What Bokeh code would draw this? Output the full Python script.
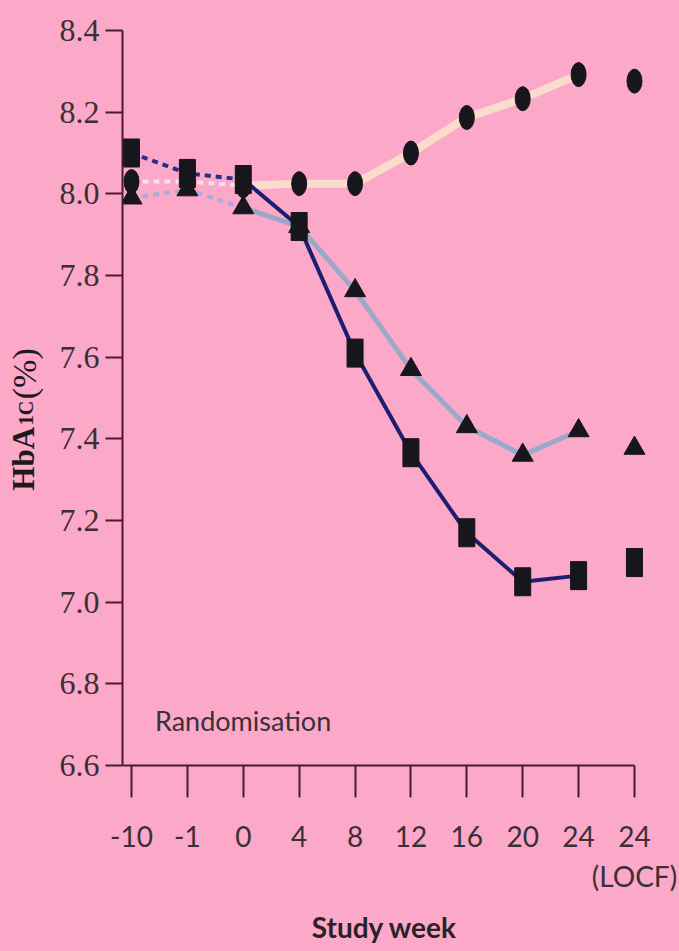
from bokeh.plotting import figure
from bokeh.models import Range1d, FixedTicker, NumeralTickFormatter, Label
from bokeh.layouts import row
from bokeh.core.properties import value
from bokeh.embed import file_html
from bokeh.resources import INLINE
import math

# ---- data ----
week_labels = ["-10", "-1", "0", "4", "8", "12", "16", "20", "24", "24\n(LOCF)"]
week_pos = list(range(len(week_labels)))
circle_vals = [8.03, 8.03, 8.02, 8.025, 8.025, 8.10, 8.187, 8.233, 8.292, 8.276]
triangle_vals = [7.99, 8.01, 7.966, 7.92, 7.763, 7.57, 7.43, 7.36, 7.42, 7.377]
square_vals = [8.10, 8.05, 8.035, 7.92, 7.61, 7.366, 7.17, 7.05, 7.065, 7.097]
y_ticks = [6.6, 6.8, 7.0, 7.2, 7.4, 7.6, 7.8, 8.0, 8.2, 8.4]
y_title_parts = ["HbA", "1C", "(%)"]

BG = "#FCA8C8"
AXIS = "#4A1C2A"
TXT = "#3A3035"
MARK = "#16161C"
C_CIRCLE = "#FADCCC"
C_CIRCLE_D = "#F3E4EC"
C_TRI = "#9AA8CA"
C_TRI_D = "#A9ABDC"
C_SQ = "#1C1F70"
C_SQ_D = "#27308C"

X_START = -0.161
X_END = 9.215
yr = Range1d(y_ticks[0], y_ticks[-1])

TOP = 30
BOTTOM = 186
H = 951
STRIP_W = 56

p = figure(width=679 - STRIP_W, height=H,
           x_range=Range1d(X_START, X_END), y_range=yr,
           output_backend="svg", toolbar_location=None,
           min_border_left=122 - STRIP_W, min_border_right=33,
           min_border_top=TOP, min_border_bottom=BOTTOM,
           background_fill_color=None, border_fill_color=None,
           outline_line_color=None, styles={"background-color": BG})
p.grid.visible = False

# x axis
xa = p.xaxis[0]
xa.ticker = FixedTicker(ticks=week_pos)
xa.major_label_overrides = {i: lab for i, lab in zip(week_pos, week_labels)}
xa.bounds = (X_START, week_pos[-1])
xa.axis_line_color = AXIS
xa.axis_line_width = 2
xa.major_tick_line_color = AXIS
xa.major_tick_line_width = 2
xa.major_tick_out = 32
xa.major_tick_in = 0
xa.minor_tick_line_color = None
xa.major_label_standoff = 21
xa.major_label_text_font = "Lato"
xa.major_label_text_font_size = "28px"
xa.major_label_text_color = TXT
xa.axis_label = "Study week"
xa.axis_label_text_font = "Lato"
xa.axis_label_text_font_style = "bold"
xa.axis_label_text_font_size = "28px"
xa.axis_label_text_color = "#2A2226"
xa.axis_label_standoff = 14

# y axis
ya = p.yaxis[0]
ya.ticker = FixedTicker(ticks=y_ticks)
ya.formatter = NumeralTickFormatter(format="0.0")
ya.bounds = (y_ticks[0], y_ticks[-1])
ya.axis_line_color = AXIS
ya.axis_line_width = 2
ya.major_tick_line_color = AXIS
ya.major_tick_line_width = 2
ya.major_tick_out = 17
ya.major_tick_in = 0
ya.minor_tick_line_color = None
ya.major_label_standoff = 6
ya.major_label_text_font = "Liberation Serif"
ya.major_label_text_font_size = "32px"
ya.major_label_text_color = TXT

# dashed run-in segments (-10 .. 0)
run = slice(0, 3)
trt = slice(2, 9)
p.line(week_pos[run], circle_vals[run], line_color=C_CIRCLE_D, line_width=4, line_dash="6 5")
p.line(week_pos[run], triangle_vals[run], line_color=C_TRI_D, line_width=4, line_dash="6 5")
p.line(week_pos[run], square_vals[run], line_color=C_SQ_D, line_width=4, line_dash="6 5")

# solid treatment lines (0 .. 24)
p.line(week_pos[trt], circle_vals[trt], line_color=C_CIRCLE, line_width=8)
p.line(week_pos[trt], triangle_vals[trt], line_color=C_TRI, line_width=5)
p.line(week_pos[trt], square_vals[trt], line_color=C_SQ, line_width=4)

# markers
p.ellipse(week_pos, circle_vals, width=15, height=24,
          width_units="screen", height_units="screen",
          fill_color=MARK, line_color=MARK)
p.scatter(week_pos, triangle_vals, marker="triangle", size=21,
          fill_color=MARK, line_color=MARK)
p.rect(week_pos, square_vals, width=16, height=28,
       width_units="screen", height_units="screen",
       fill_color=MARK, line_color=MARK)

# annotation
p.add_layout(Label(x=0.42, y=6.71, text="Randomisation", text_font="Lato",
                   text_font_size="27px", text_color=TXT, text_baseline="middle",
                   text_align="left"))

# ---- narrow left strip holding the rotated y-axis title HbA1C(%) ----
t = figure(width=STRIP_W, height=H, x_range=Range1d(0, STRIP_W), y_range=yr,
           output_backend="svg", toolbar_location=None,
           x_axis_location=None, y_axis_location=None,
           min_border_left=0, min_border_right=0,
           min_border_top=TOP, min_border_bottom=BOTTOM,
           background_fill_color=None, border_fill_color=None,
           outline_line_color=None, styles={"background-color": BG})
t.grid.visible = False
t.text(x=[23], y=[7.273], text=[y_title_parts[0]], angle=math.pi / 2,
       text_font=value("Liberation Serif"), text_font_style="bold",
       text_font_size="31px", text_color="#1E1A1C",
       text_baseline="alphabetic", text_align="left")
t.text(x=[25], y=[7.433], text=[y_title_parts[1]], angle=math.pi / 2,
       text_font=value("Liberation Serif"), text_font_style="bold",
       text_font_size="20px", text_color="#1E1A1C",
       text_baseline="alphabetic", text_align="left")
t.text(x=[24], y=[7.497], text=[y_title_parts[2]], angle=math.pi / 2,
       text_font=value("Liberation Serif"),
       text_font_size="34px", text_color="#1E1A1C",
       text_baseline="alphabetic", text_align="left")

layout = row(t, p, spacing=0, styles={"background-color": BG})
open("out.html", "w").write(file_html(layout, INLINE))
